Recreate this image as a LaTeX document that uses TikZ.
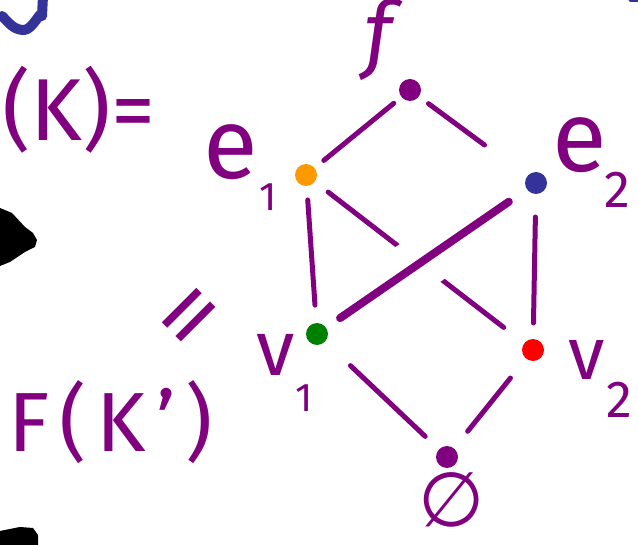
\documentclass[tikz,border=0pt]{standalone}
\usepackage{fontspec}
\setmainfont{Fira Sans}
\newfontfamily\symfont{DejaVu Sans}
\definecolor{hpurple}{RGB}{128,0,128}
\definecolor{hblue}{RGB}{51,51,153}
\definecolor{horange}{RGB}{255,153,0}
\definecolor{hgreen}{RGB}{0,128,0}
\definecolor{hred}{RGB}{255,0,0}
\tikzset{
  vdot/.style={circle, inner sep=0pt, minimum size=22pt},
  edge/.style={draw=hpurple, line width=5pt, line cap=round},
  thickedge/.style={draw=hpurple, line width=8pt, line cap=round},
  lbl/.style={text=hpurple, inner sep=0pt},
  stroke/.style={line width=10pt, line cap=round, line join=round},
}
\begin{document}
\begin{tikzpicture}[x=1pt,y=-1pt]
\useasboundingbox (0,0) rectangle (638,545);
% fragments at the edges
\draw[stroke, hblue] (43,-4) -- (42,16) to[out=90,in=0] (24,30) to[out=180,in=-45] (2,16);
\draw[stroke, hblue, line width=3pt] (630,1) -- (640,1);
\fill (0,208) -- (12,213) -- (25,227) -- (33,233) -- (37,240) -- (35,247) -- (25,252) -- (10,262) -- (0,266) -- cycle;
\fill (0,531) -- (20,527) -- (33,528) -- (38,535) -- (38,545) -- (0,545) -- cycle;
% dots
\node[vdot, fill=hpurple] (f) at (410,90) {};
\node[vdot, fill=horange] (e1) at (306,175) {};
\node[vdot, fill=hblue] (e2) at (536,183) {};
\node[vdot, fill=hgreen] (v1) at (317,334) {};
\node[vdot, fill=hred] (v2) at (533,350) {};
\node[vdot, fill=hpurple] (em) at (447,457) {};
% labels
\node[lbl, font=\fontsize{85}{85}\selectfont\itshape] (lf) at (378,40) {f};
\node[lbl, font=\fontsize{100}{100}\selectfont] (le1) at (231,152) {e};
\node[lbl, font=\fontsize{40}{40}\selectfont] (le1s) at (268,197) {1};
\node[lbl, font=\fontsize{100}{100}\selectfont] (le2) at (580,145) {e};
\node[lbl, font=\fontsize{52}{52}\selectfont] (le2s) at (617,190) {2};
\node[lbl, font=\fontsize{78}{78}\selectfont] (lv1) at (276,355) {v};
\node[lbl, font=\fontsize{40}{40}\selectfont] (lv1s) at (304,398) {1};
\node[lbl, font=\fontsize{74}{74}\selectfont] (lv2) at (587,360) {v};
\node[lbl, font=\fontsize{52}{52}\selectfont] (lv2s) at (619,400) {2};
\node[lbl, font=\fontsize{76}{76}\selectfont\symfont] (lem) at (452,500) {∅};
\node[lbl, font=\fontsize{88}{88}\selectfont, anchor=west] (lk) at (2,110) {(K)=};
\node[lbl, font=\fontsize{84}{84}\selectfont\addfontfeature{LetterSpace=12}, anchor=west] (lfk) at (8,422) {F(K')};
\node[lbl, font=\fontsize{100}{100}\selectfont\addfontfeature{FakeStretch=1.3}, rotate=45] (leq) at (196,322) {=};
% edges
\draw[edge, shorten <=21pt, shorten >=23pt] (f.center) -- (e1.center);
\draw[edge, shorten <=23pt, shorten >=64pt] (f.center) -- (e2.center);
\draw[edge, shorten <=25pt, shorten >=29pt] (e1.center) -- (v1.center);
\draw[edge, shorten <=28pt, shorten >=37pt] (e1.center) -- (v2.center);
\draw[thickedge, shorten <=33pt, shorten >=28pt,
      preaction={draw=white, line width=54pt, line cap=butt}] (e2.center) -- (v1.center);
\draw[edge, shorten <=34pt, shorten >=27pt] (e2.center) -- (v2.center);
\draw[edge, shorten <=46pt, shorten >=30pt] (v1.center) -- (em.center);
\draw[edge, shorten <=36pt, shorten >=33pt] (v2.center) -- (em.center);
\end{tikzpicture}
\end{document}
